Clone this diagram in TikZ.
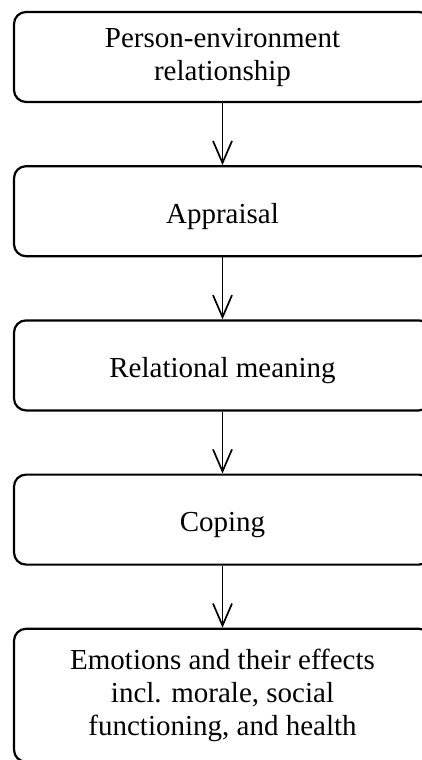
\documentclass[tikz,border=0pt]{standalone}
\usepackage{fontspec}
\setmainfont{Liberation Serif}
\usetikzlibrary{positioning,arrows.meta}
\begin{document}
\begin{tikzpicture}[x=1pt,y=1pt,
  stage/.style={draw,line width=2.2pt,rounded corners=12pt,minimum width=417pt,minimum height=90pt,align=center,inner sep=0pt,font=\fontsize{29}{33}\selectfont,execute at begin node={\rule{0pt}{30pt}}},
  flow/.style={-{Straight Barb[length=22pt,width=19pt]},line width=1.7pt}]
\useasboundingbox (0,0) rectangle (422,-760);
\node[stage] (penv) at (222.5,-57) {Person-environment\\relationship};
\node[stage,below=62pt of penv] (appr) {Appraisal};
\node[stage,below=62pt of appr] (relm) {Relational meaning};
\node[stage,below=62pt of relm] (cop) {Coping};
\node[stage,below=62pt of cop,minimum height=133pt] (emo) {Emotions and their effects\\incl. morale, social\\functioning, and health};
% arrows between the stages
\foreach \a/\b in {penv/appr,appr/relm,relm/cop,cop/emo}
  \draw[flow] (\a) -- (\b);
\end{tikzpicture}
\end{document}
